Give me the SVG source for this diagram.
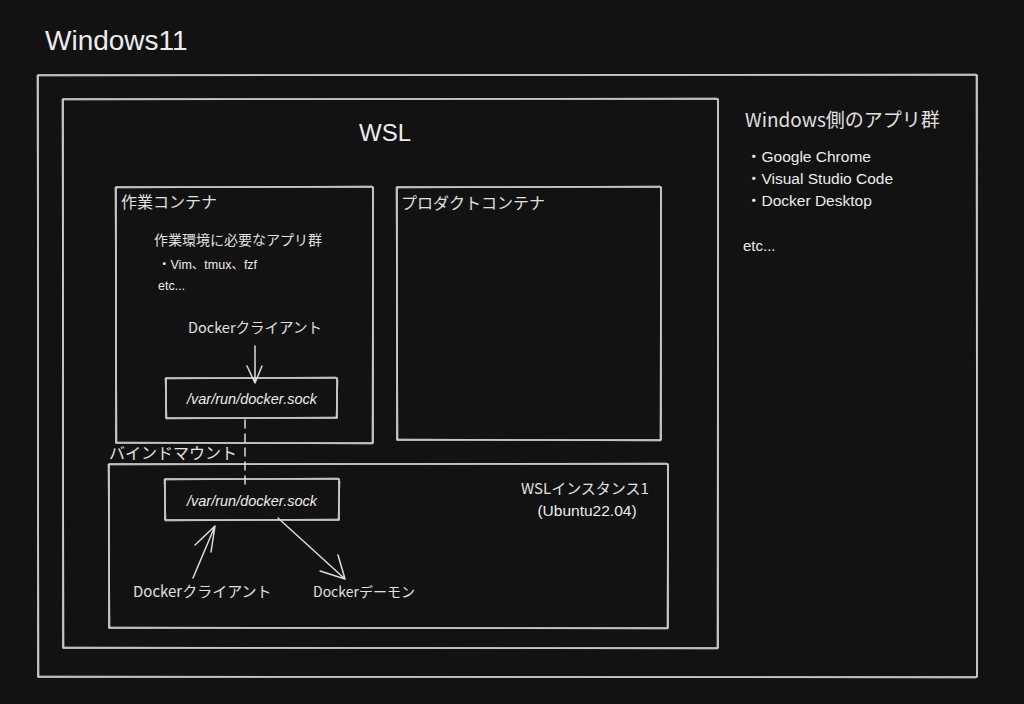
<svg xmlns="http://www.w3.org/2000/svg" width="1024" height="704" viewBox="0 0 1024 704">
<defs>
<style>
.box{fill:none;stroke:#e6e6e6;stroke-width:1.6;stroke-linejoin:round}
.box2{fill:none;stroke:#cfcfcf;stroke-width:1;opacity:0.7}
.t{fill:#ececec;font-family:"Liberation Sans","Noto Sans CJK JP",sans-serif}
.j{fill:#e0e0e0;font-family:"Noto Sans CJK JP","Liberation Sans",sans-serif}
.c{fill:none;stroke:#dcdcdc;stroke-width:1.5;stroke-linecap:round;stroke-linejoin:round}
</style>
</defs>
<rect width="1024" height="704" fill="#121212"/>
<text class="t" x="45" y="50" font-size="28">Windows11</text>

<g id="windows">
<rect class="box" x="38" y="75" width="939" height="602"/>
<path class="box2" d="M39 76 L976 74 M976 75 L977 677 M38 676 L976 678 M37 75 L39 677"/>
<text class="j" x="745" y="127" font-size="19">Windows側のアプリ群</text>
<text class="t" x="746" y="162" font-size="15.5">・Google Chrome</text>
<text class="t" x="746" y="184" font-size="15.5">・Visual Studio Code</text>
<text class="t" x="746" y="206" font-size="15.5">・Docker Desktop</text>
<text class="t" x="743" y="251" font-size="15">etc...</text>
</g>

<g id="wsl">
<rect class="box" x="63" y="99" width="655" height="549"/>
<path class="box2" d="M64 100 L717 98 M718 100 L717 647 M63 647 L718 649 M62 99 L64 648"/>
<text class="t" x="385" y="141" font-size="24" text-anchor="middle">WSL</text>
</g>

<g id="work-container">
<rect class="box" x="116" y="187" width="257" height="256"/>
<path class="box2" d="M117 188 L372 186 M373 188 L372 442 M116 442 L373 444 M115 187 L117 443"/>
<text class="j" x="121" y="208" font-size="16">作業コンテナ</text>
<text class="j" x="154" y="245" font-size="14">作業環境に必要なアプリ群</text>
<text class="t" x="158" y="269" font-size="12.5">・Vim、tmux、fzf</text>
<text class="t" x="158" y="290" font-size="12.5">etc...</text>
<text class="j" x="188" y="333" font-size="14.5">Dockerクライアント</text>
</g>

<g id="socket1">
<rect class="box" x="166" y="378" width="171" height="40"/>
<path class="box2" d="M167 379 L336 377 M338 380 L336 418 M166 419 L336 417 M165 378 L167 418"/>
<text class="t" x="252" y="404" font-size="14.5" font-style="italic" text-anchor="middle">/var/run/docker.sock</text>
</g>

<g id="product-container">
<rect class="box" x="397" y="187" width="264" height="253"/>
<path class="box2" d="M398 188 L660 186 M661 188 L660 439 M397 439 L661 441 M396 187 L398 440"/>
<text class="j" x="401" y="209" font-size="16">プロダクトコンテナ</text>
</g>

<g id="wsl-instance">
<rect class="box" x="109" y="464" width="559" height="164"/>
<path class="box2" d="M110 465 L667 463 M668 465 L667 627 M109 627 L668 629 M108 464 L110 628"/>
<text class="j" x="521" y="494" font-size="15">WSLインスタンス1</text>
<text class="t" x="587" y="516" font-size="15.5" text-anchor="middle">(Ubuntu22.04)</text>
</g>

<g id="socket2">
<rect class="box" x="165" y="479" width="174" height="41"/>
<path class="box2" d="M166 480 L338 478 M340 481 L338 520 M165 521 L338 519 M164 479 L166 520"/>
<text class="t" x="252" y="506" font-size="14.5" font-style="italic" text-anchor="middle">/var/run/docker.sock</text>
</g>

<g id="labels-bottom">
<text class="j" x="133" y="597" font-size="15">Dockerクライアント</text>
<text class="j" x="313" y="597" font-size="14">Dockerデーモン</text>
</g>

<g id="bind-label">
<text class="j" x="109" y="459" font-size="16">バインドマウント</text>
</g>

<g id="connectors">
<path class="c" d="M255 346 L255 383 M247 366 L255 383 L262 366"/>
<path class="c" d="M245 420 L245 488" stroke-dasharray="8 6"/>
<path class="c" d="M193 578 L215 526 M195 545 L215 526 L211 552"/>
<path class="c" d="M278 518 L345 579 M320 571 L345 579 L338 555"/>
</g>
</svg>
